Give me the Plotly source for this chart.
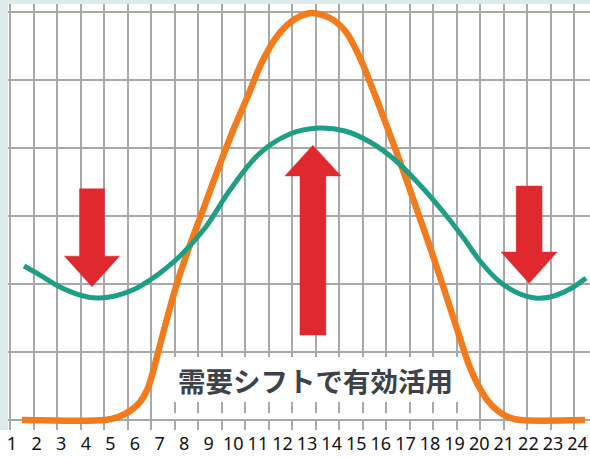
import plotly.graph_objects as go

# ---------------- data ----------------
hours = [1, 2, 3, 4, 5, 6, 7, 8, 9, 10, 11, 12, 13, 14, 15, 16, 17, 18, 19, 20, 21, 22, 23, 24]
hour_labels = [str(h) for h in hours]

# orange curve (grid units: x = grid column, y = grid row)
demand_x = [0.511, 4.043, 4.596, 5.106, 5.532, 5.872, 6.128, 6.383, 6.723, 7.149, 7.660, 8.213,
            8.809, 9.447, 10.085, 10.723, 11.404, 12.128, 12.851, 13.617, 14.298, 14.936,
            15.532, 16.128, 16.723, 17.319, 17.915, 18.511, 19.064, 19.532, 19.915, 20.340,
            20.766, 21.191, 21.702, 24.468]
demand_y = [0.000, 0.000, 0.044, 0.132, 0.265, 0.471, 0.765, 1.103, 1.544, 2.059, 2.574, 3.088,
            3.647, 4.221, 4.735, 5.265, 5.662, 5.897, 5.985, 5.912, 5.706, 5.294,
            4.779, 4.235, 3.676, 3.088, 2.500, 1.882, 1.294, 0.809, 0.515, 0.279,
            0.132, 0.044, 0.000, 0.000]

# teal curve
supply_x = [0.596, 1.277, 2.128, 2.979, 3.702, 4.468, 5.319, 5.957, 6.383, 7.234, 8.298, 9.362,
            10.638, 11.915, 13.106, 14.255, 15.319, 16.383, 17.447, 18.511, 19.362, 20.000,
            20.851, 21.702, 22.340, 22.979, 23.830, 24.511]
supply_y = [2.265, 2.132, 1.956, 1.838, 1.794, 1.824, 1.926, 2.059, 2.162, 2.412, 2.824, 3.382,
            3.926, 4.206, 4.294, 4.250, 4.088, 3.824, 3.456, 3.029, 2.647, 2.338,
            2.029, 1.853, 1.794, 1.809, 1.926, 2.088]

# arrows
arrow_x = [3.49, 12.89, 22.09]
arrow_tail = [3.40, 1.25, 3.44]
arrow_neck = [2.41, 3.59, 2.47]
arrow_tip = [1.96, 4.04, 2.01]
arrow_shaft_half = [0.53, 0.55, 0.55]
arrow_head_half = [1.17, 1.19, 1.19]

label_text = "需要シフトで有効活用"
label_x = 13.02
label_y = 0.59
label_box_x = [6.38, 19.49]
label_box_y = [0.265, 0.926]
gap_box_y = [0.015, 0.10]

# ---------------- figure ----------------
W, H = 590, 457
ML, MR, MT, MB = 8, 0, 4, 27
fig = go.Figure()

# invisible trace to carry the label axis
fig.add_trace(go.Scatter(x=hours, y=[None] * len(hours), xaxis="x2", yaxis="y",
                         mode="markers", hoverinfo="skip", showlegend=False))

fig.add_trace(go.Scatter(x=demand_x, y=demand_y, mode="lines",
                         line=dict(color="#f47b1c", width=6.5, shape="spline", smoothing=0.8),
                         hoverinfo="skip", showlegend=False))
fig.add_trace(go.Scatter(x=supply_x, y=supply_y, mode="lines",
                         line=dict(color="#1e9e85", width=5, shape="spline", smoothing=1.0),
                         hoverinfo="skip", showlegend=False))

for cx, ty, ny, py, sh, hh in zip(arrow_x, arrow_tail, arrow_neck, arrow_tip,
                                  arrow_shaft_half, arrow_head_half):
    xs = [cx - sh, cx + sh, cx + sh, cx + hh, cx, cx - hh, cx - sh, cx - sh]
    ys = [ty, ty, ny, ny, py, ny, ny, ty]
    fig.add_trace(go.Scatter(x=xs, y=ys, mode="lines", fill="toself",
                             fillcolor="#e0292f", line=dict(color="#e0292f", width=0.5),
                             hoverinfo="skip", showlegend=False))

fig.add_shape(type="rect", xref="x", yref="y", layer="between",
              x0=label_box_x[0], x1=label_box_x[1], y0=label_box_y[0], y1=label_box_y[1],
              fillcolor="white", line=dict(width=0))
fig.add_shape(type="rect", xref="x", yref="y", layer="between",
              x0=label_box_x[0], x1=label_box_x[1], y0=gap_box_y[0], y1=gap_box_y[1],
              fillcolor="white", line=dict(width=0))

pw = W - ML - MR
ph = H - MT - MB
fig.add_shape(type="rect", xref="paper", yref="paper", layer="below",
              x0=-ML / pw, x1=1, y0=-MB / ph, y1=0,
              fillcolor="white", line=dict(width=0))

fig.add_annotation(x=label_x, y=label_y, xref="x", yref="y", text=label_text,
                   showarrow=False,
                   font=dict(family="Noto Sans CJK JP", size=27.5, color="#3c4247", weight="bold"))

fig.update_layout(
    width=W, height=H,
    margin=dict(l=ML, r=MR, t=MT, b=MB, pad=0, autoexpand=False),
    paper_bgcolor="#dde9ea",
    plot_bgcolor="white",
    showlegend=False,
    xaxis=dict(range=[-0.0851, 24.681], tickmode="linear", tick0=0, dtick=1,
               showgrid=True, gridcolor="#a8a8a8", gridwidth=1.5, automargin=False,
               showticklabels=False, zeroline=False, showline=False, fixedrange=True),
    xaxis2=dict(overlaying="x", side="bottom", anchor="y", automargin=False,
                range=[0.837, 24.506], tickmode="array", tickvals=hours, ticktext=hour_labels,
                showgrid=False, zeroline=False, showline=False,
                ticks="", ticklabelstandoff=1, ticklabeloverflow="allow",
                tickfont=dict(family="Noto Sans", size=18, color="#111111")),
    yaxis=dict(range=[-0.147, 6.118], tickmode="linear", tick0=0, dtick=1,
               showgrid=True, gridcolor="#a8a8a8", gridwidth=1.5, automargin=False,
               showticklabels=False, zeroline=False, showline=False, fixedrange=True),
)

fig.write_html("out.html", config={"displayModeBar": False},
               post_script="document.body.style.margin='0';document.body.style.overflow='hidden';")
